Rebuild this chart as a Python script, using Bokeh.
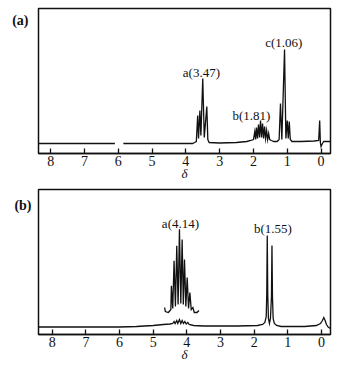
from bokeh.plotting import figure
from bokeh.models import Range1d, FixedTicker, Label, LinearAxis
from bokeh.layouts import column
from bokeh.embed import file_html
from bokeh.resources import INLINE

# ---------------- data (chemical shift delta, intensity) ----------------
ticks = [0, 1, 2, 3, 4, 5, 6, 7, 8]

# panel (a): baseline piece left of the break
spec_a_left = [(8.36, 10), (6.10, 10)]
# panel (a): rest of the spectrum
spec_a_main = [
    (5.85, 10), (3.80, 10), (3.74, 11), (3.69, 12), (3.65, 38), (3.625, 15),
    (3.585, 43), (3.555, 18), (3.50, 75), (3.455, 16), (3.38, 47), (3.35, 14),
    (3.31, 11), (3.00, 10.5), (2.50, 11), (2.20, 12), (2.08, 13), (2.00, 14),
    (1.96, 22), (1.935, 14), (1.91, 26), (1.88, 15), (1.85, 29), (1.82, 16),
    (1.79, 33), (1.76, 16), (1.73, 30), (1.70, 15), (1.67, 27), (1.64, 15),
    (1.61, 23), (1.58, 14), (1.55, 20), (1.52, 14), (1.47, 13), (1.40, 12),
    (1.30, 12), (1.24, 14), (1.20, 50), (1.16, 14), (1.08, 104), (1.04, 15),
    (1.00, 33), (0.97, 15), (0.94, 32), (0.91, 14), (0.86, 12), (0.60, 12),
    (0.20, 12.5), (0.07, 13), (0.04, 33), (0.02, 11), (0.00, 7), (-0.04, 10),
    (-0.08, 12), (-0.28, 12),
]
labels_a = ["a(3.47)", "b(1.81)", "c(1.06)"]

# panel (b): full spectrum
spec_b_main = [
    (8.41, 7.5), (6.00, 7.5), (5.50, 8), (5.00, 9), (4.70, 10), (4.50, 10.5),
    (4.42, 11), (4.38, 13), (4.35, 11), (4.30, 14), (4.27, 11), (4.22, 15),
    (4.18, 11), (4.14, 14), (4.10, 11), (4.06, 13), (4.02, 10.5), (3.97, 12),
    (3.93, 10), (3.80, 9), (3.50, 8.5), (2.50, 8.5), (1.90, 9), (1.75, 10),
    (1.68, 12), (1.64, 18), (1.625, 40), (1.61, 99), (1.595, 40), (1.575, 16),
    (1.545, 11), (1.515, 16), (1.485, 38), (1.47, 89), (1.455, 38), (1.435, 16),
    (1.40, 11), (1.33, 9), (1.20, 8), (0.50, 8), (0.15, 9), (0.03, 11),
    (-0.03, 14), (-0.07, 17), (-0.11, 14), (-0.15, 10), (-0.20, 7.5), (-0.27, 6),
]
# panel (b): expanded trace of the a(4.14) multiplet
spec_b_inset = [
    (4.66, 27), (4.64, 23), (4.55, 22), (4.50, 24), (4.475, 25), (4.46, 48.7),
    (4.42, 26), (4.38, 73.7), (4.34, 28), (4.30, 88.7), (4.26, 30), (4.22, 105.3),
    (4.18, 31), (4.14, 95), (4.105, 30), (4.07, 75), (4.03, 28), (3.99, 57),
    (3.95, 26), (3.91, 42), (3.87, 25), (3.82, 27), (3.78, 22), (3.70, 22),
    (3.64, 24),
]
labels_b = ["a(4.14)", "b(1.55)"]

# ---------------- styling helpers ----------------
SERIF = "Liberation Serif"
INK = "#111111"


def make_panel(x_start, x_end, width, height, border_left, border_right, border_top,
               border_bottom, tag, tag_y, tag_standoff):
    p = figure(width=width, height=height,
               x_range=Range1d(x_start, x_end), y_range=Range1d(0, 145),
               output_backend="svg", toolbar_location=None,
               y_axis_location=None,
               min_border_left=border_left, min_border_right=border_right,
               min_border_top=border_top, min_border_bottom=border_bottom)
    p.grid.visible = False
    p.outline_line_color = INK
    p.outline_line_width = 1.5
    p.background_fill_color = "white"
    p.border_fill_color = "white"
    ax = p.xaxis[0]
    ax.ticker = FixedTicker(ticks=ticks)
    ax.major_tick_in = 5
    ax.major_tick_out = 0
    ax.minor_tick_line_color = None
    ax.major_tick_line_color = INK
    ax.major_tick_line_width = 1.3
    ax.axis_line_color = INK
    ax.axis_line_width = 1.5
    ax.major_label_standoff = 2
    ax.major_label_text_font = SERIF
    ax.major_label_text_font_size = "14px"
    ax.major_label_text_color = INK
    ax.axis_label = "δ"
    ax.axis_label_text_font = SERIF
    ax.axis_label_text_font_size = "13px"
    ax.axis_label_text_font_style = "italic"
    ax.axis_label_text_color = INK
    ax.axis_label_standoff = -3
    # panel tag "(a)" / "(b)" drawn as the only label of a bare left axis
    tag_axis = LinearAxis(ticker=FixedTicker(ticks=[tag_y]),
                          major_label_overrides={tag_y: tag},
                          axis_line_color=None, major_tick_line_color=None,
                          minor_tick_line_color=None,
                          major_tick_in=0, major_tick_out=0,
                          major_label_standoff=tag_standoff,
                          major_label_text_font=SERIF,
                          major_label_text_font_size="14px",
                          major_label_text_font_style="bold",
                          major_label_text_color=INK)
    p.add_layout(tag_axis, "left")
    return p


def add_text(p, x, y, text):
    p.add_layout(Label(x=x, y=y, text=text, text_font=SERIF, text_font_size="13px",
                       text_color=INK, text_align="center", text_baseline="middle"))


def draw(p, pts):
    xs = [a for a, _ in pts]
    ys = [b for _, b in pts]
    p.line(xs, ys, line_color=INK, line_width=1.3, line_join="miter")


# ---------------- panel (a) ----------------
pa = make_panel(8.36, -0.28, 345, 183, 38, 12, 8, 30, "(a)", 133, 10)
draw(pa, spec_a_left)
draw(pa, spec_a_main)
add_text(pa, 3.54, 81, labels_a[0])
add_text(pa, 2.06, 38, labels_a[1])
add_text(pa, 1.10, 111, labels_a[2])

# ---------------- panel (b) ----------------
pb = make_panel(8.41, -0.27, 345, 181, 34, 15, 6, 30, "(b)", 129, 7)
draw(pb, spec_b_main)
draw(pb, spec_b_inset)
add_text(pb, 4.19, 111, labels_b[0])
add_text(pb, 1.44, 106, labels_b[1])

layout = column(pa, pb, spacing=0)
open("out.html", "w").write(file_html(layout, INLINE))
